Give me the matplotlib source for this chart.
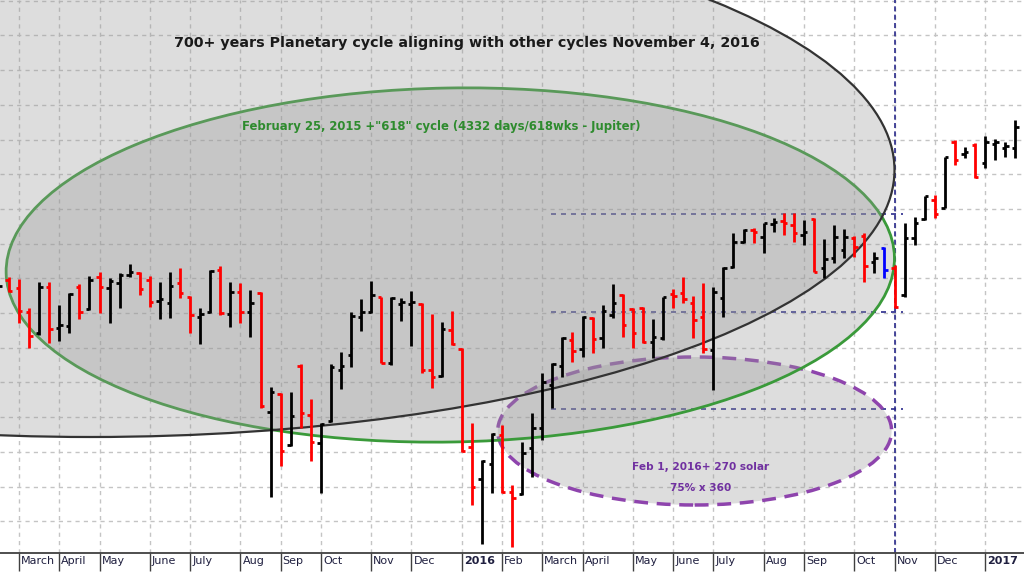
import numpy as np
import pandas as pd
import matplotlib
matplotlib.use('Agg')
import matplotlib.pyplot as plt
import matplotlib.dates as mdates
from matplotlib.patches import Ellipse
from matplotlib.transforms import ScaledTranslation

# Weekly bars (Friday dated)
weeks = pd.date_range('2015-02-20', periods=102, freq='W-FRI')

opens = np.array([
    2112, 2120, 2112, 2088, 2067, 2113, 2072, 2074, 2113, 2091,
    2123, 2112, 2117, 2125, 2127, 2120, 2099, 2097, 2117, 2103,
    2083, 2088, 2130, 2086, 2108, 2088, 2107, 1988, 2006, 1955,
    2034, 1985, 1957, 1979, 2030, 2045, 2083, 2088, 2103, 2037,
    2096, 2096, 2096, 2030, 2024, 2070, 2051, 1953, 1921, 1936,
    1965, 1908, 1906, 1952, 1972, 2015, 2034, 2060, 2051, 2082,
    2062, 2085, 2105, 2091, 2092, 2058, 2062, 2106, 2107, 2097,
    2083, 2050, 2102, 2133, 2158, 2170, 2163, 2176, 2179, 2175,
    2165, 2181, 2132, 2142, 2150, 2162, 2164, 2138, 2152, 2132,
    2105, 2162, 2181, 2200, 2192, 2258, 2246, 2255, 2237, 2256,
    2252, 2252])
highs = np.array([
    2120, 2123, 2121, 2092, 2118, 2118, 2095, 2107, 2116, 2124,
    2128, 2122, 2127, 2136, 2128, 2124, 2118, 2128, 2132, 2104,
    2092, 2130, 2134, 2118, 2117, 2110, 2108, 2013, 2007, 2008,
    2036, 2001, 1977, 2036, 2048, 2088, 2101, 2119, 2103, 2103,
    2102, 2109, 2097, 2086, 2078, 2089, 2052, 1977, 1940, 1967,
    1975, 1915, 1958, 1987, 2027, 2037, 2063, 2068, 2084, 2083,
    2095, 2116, 2106, 2092, 2093, 2081, 2103, 2111, 2123, 2104,
    2117, 2113, 2133, 2167, 2171, 2172, 2177, 2182, 2187, 2187,
    2180, 2182, 2161, 2175, 2171, 2164, 2167, 2148, 2153, 2135,
    2177, 2183, 2204, 2205, 2243, 2260, 2253, 2257, 2264, 2261,
    2258, 2280])
lows = np.array([
    2109, 2108, 2077, 2052, 2065, 2057, 2059, 2067, 2081, 2090,
    2087, 2077, 2092, 2123, 2105, 2093, 2081, 2082, 2102, 2067,
    2056, 2087, 2085, 2073, 2077, 2063, 1992, 1903, 1934, 1954,
    1972, 1939, 1907, 1978, 2011, 2033, 2069, 2087, 2037, 2035,
    2079, 2054, 2027, 2012, 2023, 2055, 1948, 1895, 1856, 1907,
    1907, 1853, 1905, 1923, 1960, 1992, 2023, 2038, 2043, 2047,
    2052, 2082, 2063, 2052, 2057, 2042, 2060, 2092, 2097, 2062,
    2047, 2010, 2083, 2132, 2157, 2157, 2147, 2168, 2165, 2158,
    2155, 2128, 2122, 2137, 2142, 2143, 2118, 2127, 2122, 2092,
    2103, 2155, 2180, 2182, 2192, 2235, 2242, 2222, 2232, 2240,
    2243, 2242])
closes = np.array([
    2114, 2109, 2089, 2064, 2113, 2071, 2075, 2106, 2088, 2120,
    2113, 2119, 2125, 2128, 2111, 2098, 2101, 2114, 2107, 2085,
    2086, 2129, 2087, 2108, 2088, 2097, 1994, 2008, 1949, 1984,
    1987, 1958, 1976, 2033, 2034, 2084, 2088, 2105, 2037, 2102,
    2098, 2098, 2030, 2023, 2071, 2056, 1949, 1913, 1939, 1966,
    1908, 1902, 1947, 1972, 2018, 2036, 2062, 2049, 2083, 2061,
    2089, 2097, 2075, 2067, 2058, 2063, 2103, 2104, 2101, 2080,
    2051, 2108, 2132, 2158, 2170, 2168, 2177, 2178, 2177, 2167,
    2168, 2128, 2141, 2163, 2163, 2153, 2134, 2142, 2130, 2093,
    2162, 2177, 2204, 2186, 2243, 2240, 2248, 2223, 2258, 2258,
    2254, 2273])
highlight_week = '2016-10-28'

# month markers on the time axis
tick_dates = ['2015-02-06', '2015-03-06', '2015-04-03', '2015-05-01', '2015-06-05',
              '2015-07-03', '2015-08-07', '2015-09-04', '2015-10-02', '2015-11-06',
              '2015-12-04', '2016-01-08', '2016-02-05', '2016-03-04', '2016-04-01',
              '2016-05-06', '2016-06-03', '2016-07-01', '2016-08-05', '2016-09-02',
              '2016-10-07', '2016-11-04', '2016-12-02', '2017-01-06']
tick_labels = ['Feb', 'March', 'April', 'May', 'June', 'July', 'Aug', 'Sep', 'Oct',
               'Nov', 'Dec', '2016', 'Feb', 'March', 'April', 'May', 'June', 'July',
               'Aug', 'Sep', 'Oct', 'Nov', 'Dec', '2017']

# cycle ellipses: centre date, centre price, half width (days), half height, tilt
cycles = [
    ('2016-06-18', 1969, 137, 74, 0),      # Feb 1 2016 + 270 solar
    ('2015-12-31', 2135, 309, 177, 1.0),   # Feb 25 2015 + 618
    ('2015-04-25', 2230, 559, 267, 0),     # 700+ years cycle
]
cycle_styles = [
    dict(edgecolor='#8e44ad', linestyle=(0, (4, 2.5)), linewidth=2.5),
    dict(edgecolor='#3a9a3a', linewidth=2),
    dict(edgecolor='#333333', linewidth=1.6),
]

levels = [2186, 2088, 1991]
level_start, level_end = '2016-03-10', '2016-11-10'
turn_date = '2016-11-04'

grid_base, grid_step = 2087, 34.7

fig = plt.figure(figsize=(10.24, 5.74), dpi=100)
ax = fig.add_axes([0, 21 / 574, 1, 553 / 574])

# grid
ax.set_xticks(mdates.date2num(pd.to_datetime(tick_dates)))
ax.set_xticklabels([])
ax.set_yticks(grid_base + grid_step * np.arange(-7, 10))
ax.tick_params(axis='y', length=0, labelleft=False)
ax.tick_params(axis='x', direction='out', length=13, width=1, color='#404040')
ax.grid(True, color='#c4c4c4', linestyle=(0, (3, 3)), linewidth=1)
ax.set_axisbelow(True)
for s in ['top', 'left', 'right']:
    ax.spines[s].set_visible(False)
ax.spines['bottom'].set_color('#404040')
ax.spines['bottom'].set_linewidth(1.3)

left = mdates.date2num(pd.Timestamp('2015-02-27')) - 6.22
ax.set_xlim(left, left + 712.3)
ax.set_ylim(1847, 2400)

for d, lab in zip(tick_dates, tick_labels):
    ax.annotate(lab, xy=(mdates.date2num(pd.Timestamp(d)), 0),
                xycoords=('data', 'axes fraction'), xytext=(1.5, -2.5),
                textcoords='offset points', ha='left', va='top', fontsize=8,
                color='#202040', fontweight='bold' if lab.isdigit() else 'normal')

# reference lines
ax.hlines(levels, mdates.date2num(pd.Timestamp(level_start)),
          mdates.date2num(pd.Timestamp(level_end)), colors='#2b2b8c',
          linestyles=(0, (3, 3)), linewidth=1.2, zorder=1.1)
ax.axvline(mdates.date2num(pd.Timestamp(turn_date)), color='#2b2b8c',
           linestyle=(0, (3, 2)), linewidth=1.2, zorder=1.2)

# cycle ellipses
sx = ax.bbox.width / (ax.get_xlim()[1] - ax.get_xlim()[0])
sy = ax.bbox.height / (ax.get_ylim()[1] - ax.get_ylim()[0])
for k, ((c, p, hd, hp, tilt), st) in enumerate(zip(cycles, cycle_styles)):
    e = Ellipse((0, 0), 2 * hd * sx, 2 * hp * sy, angle=tilt,
                facecolor=(0.6, 0.6, 0.6, 0.33), zorder=1.3 + 0.1 * k,
                transform=ScaledTranslation(mdates.date2num(pd.Timestamp(c)), p, ax.transData),
                **st)
    ax.add_patch(e)

# OHLC bars
x = mdates.date2num(weeks)
colors = np.where(closes < opens, 'red', 'black').astype(object)
colors[weeks == pd.Timestamp(highlight_week)] = 'blue'
tick = 2.4
ax.vlines(x, lows, highs, colors=colors, linewidth=2, zorder=3)
ax.hlines(opens, x - tick, x, colors=colors, linewidth=2, zorder=3)
ax.hlines(closes, x, x + tick, colors=colors, linewidth=2, zorder=3)

# annotations
ax.text(0.456, 0.922, '700+ years Planetary cycle aligning with other cycles November 4, 2016',
        transform=ax.transAxes, ha='center', va='center', fontsize=10.3,
        fontweight='bold', color='#1a1a1a', zorder=5)
ax.text(0.431, 0.772, 'February 25, 2015 +"618" cycle (4332 days/618wks - Jupiter)',
        transform=ax.transAxes, ha='center', va='center', fontsize=8.4,
        fontweight='bold', color='#2e8b2e', zorder=5)
ax.text(0.684, 0.1555, 'Feb 1, 2016+ 270 solar', transform=ax.transAxes,
        ha='center', va='center', fontsize=7.6, fontweight='bold',
        color='#7030a0', zorder=5)
ax.text(0.684, 0.1175, '75% x 360', transform=ax.transAxes,
        ha='center', va='center', fontsize=7.6, fontweight='bold',
        color='#7030a0', zorder=5)

fig.savefig('out.png', dpi=100)
